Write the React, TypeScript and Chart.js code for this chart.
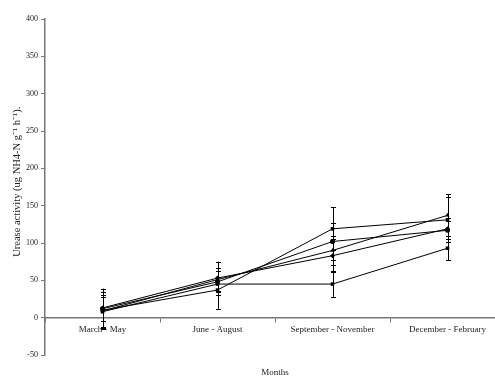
import React, { useEffect, useRef } from "react";
import { Chart, registerables } from "chart.js";

Chart.register(...registerables);

const categories = ["March - May", "June - August", "September - November", "December - February"];
const yTicks = [-50, 0, 50, 100, 150, 200, 250, 300, 350, 400];

const series1 = [10, 37, 119, 131];
const err1 = [24, 25, 29, 30];
const series2 = [12, 48, 102, 117];
const err2 = [27, 18, 25, 12];
const series3 = [9, 51, 90, 137];
const err3 = [22, 15, 20, 28];
const series4 = [13, 53, 83, 119];
const err4 = [18, 22, 22, 14];
const series5 = [8, 45, 45, 93];
const err5 = [20, 10, 17, 16];

const seriesList = [series1, series2, series3, series4, series5];
const errList = [err1, err2, err3, err4, err5];
const markerStyles = ["rect", "circle", "triangle", "rectRot", "rect"];

const FONT = "'Liberation Serif', 'Times New Roman', serif";

const errorBarPlugin = {
  id: "errorBars",
  afterDatasetsDraw(chart: any) {
    const ctx = chart.ctx;
    const yScale = chart.scales.y;
    ctx.save();
    ctx.strokeStyle = "#000";
    ctx.lineWidth = 1;
    chart.data.datasets.forEach((ds: any, di: number) => {
      const meta = chart.getDatasetMeta(di);
      const errs = errList[di];
      meta.data.forEach((pt: any, i: number) => {
        const v = ds.data[i];
        const e = errs[i];
        const x = Math.round(pt.x) + 0.5;
        const yTop = yScale.getPixelForValue(v + e);
        const yBot = yScale.getPixelForValue(v - e);
        ctx.beginPath();
        ctx.moveTo(x, yTop);
        ctx.lineTo(x, yBot);
        ctx.moveTo(x - 2.5, Math.round(yTop) + 0.5);
        ctx.lineTo(x + 2.5, Math.round(yTop) + 0.5);
        ctx.moveTo(x - 2.5, Math.round(yBot) + 0.5);
        ctx.lineTo(x + 2.5, Math.round(yBot) + 0.5);
        ctx.stroke();
      });
    });
    ctx.restore();
  },
};

export default function App() {
  const canvasRef = useRef<HTMLCanvasElement | null>(null);

  useEffect(() => {
    if (!canvasRef.current) return;
    const chart = new Chart(canvasRef.current, {
      type: "line",
      data: {
        labels: categories,
        datasets: seriesList.map((s, i) => ({
          label: "Series " + (i + 1),
          data: s,
          borderColor: "#000",
          backgroundColor: "#000",
          borderWidth: 1,
          pointStyle: markerStyles[i] as any,
          pointRadius: 2.5,
          pointBorderWidth: 0,
          tension: 0,
          fill: false,
        })),
      },
      options: {
        animation: false,
        responsive: false,
        devicePixelRatio: 1,
        layout: { padding: { top: 19, bottom: 22, left: 0, right: 5 } },
        plugins: {
          legend: { display: false },
          tooltip: { enabled: false },
        },
        scales: {
          x: {
            type: "category",
            position: { y: 0 } as any,
            offset: true,
            grid: {
              display: true,
              drawOnChartArea: false,
              drawTicks: true,
              tickLength: 4,
              color: "#777",
              offset: true,
            },
            border: { display: true, color: "#777", width: 1.5 },
            ticks: {
              color: "#222",
              font: { family: FONT, size: 9 },
              padding: 3,
              maxRotation: 0,
              autoSkip: false,
            },
            title: {
              display: true,
              text: "Months",
              color: "#222",
              font: { family: FONT, size: 9 },
              padding: { top: 29, bottom: 0 },
            },
          },
          y: {
            min: -50,
            max: 400,
            afterBuildTicks: (scale: any) => {
              scale.ticks = yTicks.map((v) => ({ value: v }));
            },
            afterFit: (scale: any) => {
              scale.width = 45;
            },
            grid: {
              display: true,
              drawOnChartArea: false,
              drawTicks: true,
              tickLength: 4,
              color: "#777",
            },
            border: { display: true, color: "#777", width: 1.5 },
            ticks: {
              color: "#222",
              font: { family: FONT, size: 8 },
              padding: 3,
            },
            title: {
              display: true,
              text: "\u2003Urease activity (ug NH4-N g⁻¹ h⁻¹).",
              color: "#222",
              font: { family: FONT, size: 10.5 },
              padding: { top: 11, bottom: 0 },
            },
          },
        },
      },
      plugins: [errorBarPlugin],
    });
    return () => chart.destroy();
  }, []);

  return (
    <div
      style={{
        position: "fixed",
        left: 0,
        top: 0,
        width: 495,
        height: 377,
        overflow: "hidden",
        background: "#fff",
      }}
    >
      <canvas ref={canvasRef} width={510} height={377} style={{ display: "block" }} />
    </div>
  );
}
